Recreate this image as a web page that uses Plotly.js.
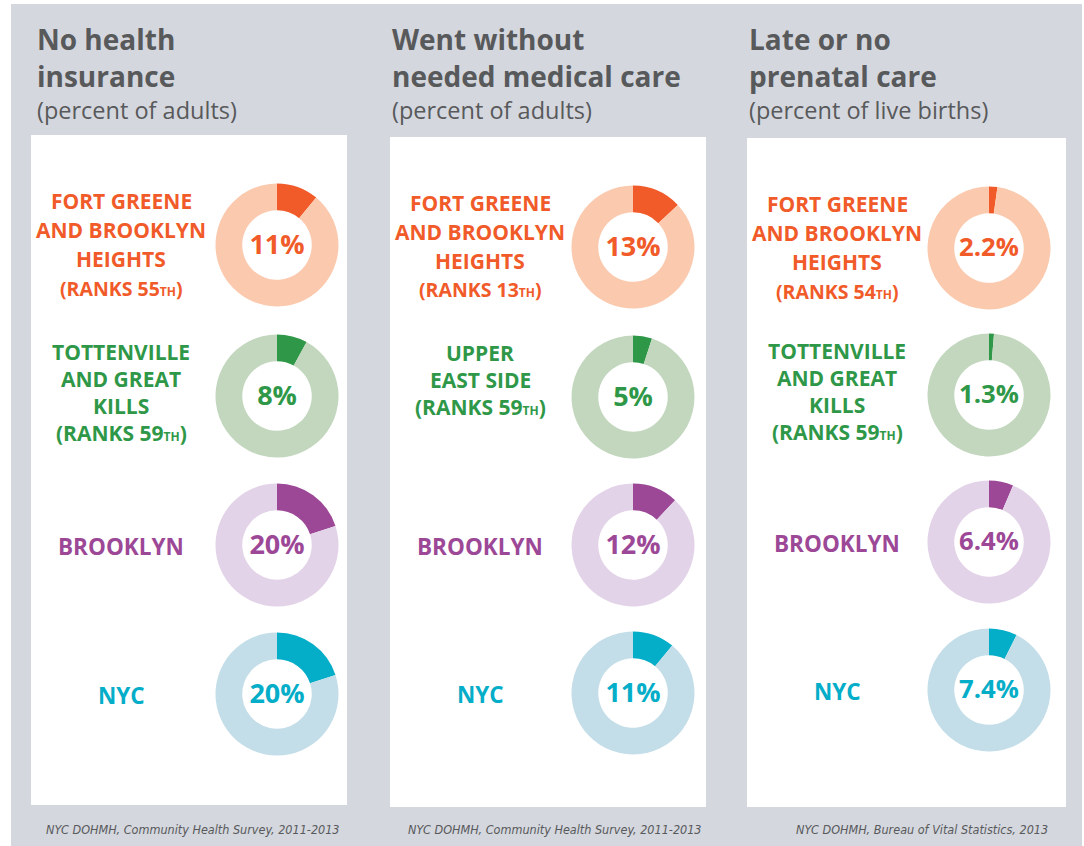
<!DOCTYPE html>
<html>
<head>
<meta charset="utf-8">
<script src="https://cdn.plot.ly/plotly-3.0.1.min.js"></script>
<style>
  html, body { margin: 0; padding: 0; background: #ffffff; }
  #graph { width: 1084px; height: 846px; }
</style>
</head>
<body>
<div id="graph"></div>
<script>
// chart data
const panelTitles = [
    ['No health', 'insurance'],
    ['Went without', 'needed medical care'],
    ['Late or no', 'prenatal care']
]
const panelUnits = ['(percent of adults)', '(percent of adults)', '(percent of live births)']
const panelSources = [
    'NYC DOHMH, Community Health Survey, 2011-2013',
    'NYC DOHMH, Community Health Survey, 2011-2013',
    'NYC DOHMH, Bureau of Vital Statistics, 2013'
]
const areaLabels = [
    [
        ['FORT GREENE', 'AND BROOKLYN', 'HEIGHTS', '(RANKS 55TH)'],
        ['TOTTENVILLE', 'AND GREAT', 'KILLS', '(RANKS 59TH)'],
        ['BROOKLYN'],
        ['NYC']
    ],
    [
        ['FORT GREENE', 'AND BROOKLYN', 'HEIGHTS', '(RANKS 13TH)'],
        ['UPPER', 'EAST SIDE', '(RANKS 59TH)'],
        ['BROOKLYN'],
        ['NYC']
    ],
    [
        ['FORT GREENE', 'AND BROOKLYN', 'HEIGHTS', '(RANKS 54TH)'],
        ['TOTTENVILLE', 'AND GREAT', 'KILLS', '(RANKS 59TH)'],
        ['BROOKLYN'],
        ['NYC']
    ]
]
const noInsurance = [11, 8, 20, 20]
const noCare = [13, 5, 12, 11]
const latePrenatal = [2.2, 1.3, 6.4, 7.4]
const panelValues = [noInsurance, noCare, latePrenatal]

const darkColors = ['#f15a29', '#2f9848', '#9c4897', '#04adc8']
const lightColors = ['#fbcaae', '#c2d7bd', '#e3d3e8', '#c3dee8']

// page geometry (pixels)
const W = 1084, H = 846
const px = x => x / W
const py = y => 1 - y / H

const panelBoxes = [[31, 135, 347, 805], [390, 137, 706, 807], [747, 138, 1066, 807]]
const titleX = [35, 390, 747]
const donutX = [277, 633, 989]
const rowY = [[245, 396, 545, 694], [247, 397, 545, 693], [248, 395, 542, 690]]
const labelX = [121, 480, 837]
const sourceRight = [342, 704, 1050]
const R = 61.5

const titleFont = {family: '"Open Sans", sans-serif', size: 28, color: '#58595b', weight: 'bold'}
const unitFont = {family: '"Open Sans", sans-serif', size: 23.5, color: '#58595b'}

// small "TH" ordinal, drawn like small caps next to the rank number
const ordinal = s => s.replace('TH)', '<span style="font-size:12px">TH</span>)')

const data = []
const annotations = []
const shapes = [{
    type: 'rect', xref: 'paper', yref: 'paper', layer: 'below',
    x0: px(11), x1: px(1082), y0: py(4), y1: py(846),
    fillcolor: '#d4d7de', line: {width: 0}
}]

panelValues.forEach((vals, c) => {
    const b = panelBoxes[c]
    shapes.push({
        type: 'rect', xref: 'paper', yref: 'paper', layer: 'below',
        x0: px(b[0]), x1: px(b[2]), y0: py(b[1]), y1: py(b[3]),
        fillcolor: '#ffffff', line: {width: 0}
    })

    panelTitles[c].forEach((t, i) => {
        annotations.push({
            text: t, x: px(titleX[c]), y: py(39 + i * 37), xref: 'paper', yref: 'paper',
            xanchor: 'left', yanchor: 'middle', showarrow: false, font: titleFont
        })
    })
    annotations.push({
        text: panelUnits[c], x: px(titleX[c]), y: py(110), xref: 'paper', yref: 'paper',
        xanchor: 'left', yanchor: 'middle', showarrow: false, font: unitFont
    })
    annotations.push({
        text: '<i>' + panelSources[c] + '</i>', x: px(sourceRight[c]), y: py(829),
        xref: 'paper', yref: 'paper', xanchor: 'right', yanchor: 'middle', showarrow: false,
        font: {family: '"DejaVu Sans Condensed", sans-serif', size: 12.5, color: '#58595b'}
    })

    vals.forEach((v, r) => {
        const cx = donutX[c], cy = rowY[c][r]
        data.push({
            type: 'pie',
            values: [v, 100 - v],
            sort: false,
            direction: 'clockwise',
            rotation: 0,
            hole: 0.565,
            textinfo: 'none',
            hoverinfo: 'skip',
            showlegend: false,
            marker: {colors: [darkColors[r], lightColors[r]], line: {width: 0}},
            domain: {x: [px(cx - R), px(cx + R)], y: [py(cy + R), py(cy - R)]},
            title: {
                text: v + '%', position: 'middle center',
                font: {family: '"Open Sans", sans-serif', size: 27, color: darkColors[r], weight: 'bold'}
            }
        })

        const lines = areaLabels[c][r]
        const gap = r === 0 ? 29 : 27
        lines.forEach((ln, i) => {
            const y = lines.length === 1 ? cy + 1 : cy - 44 + i * gap
            const isRank = ln.startsWith('(')
            let size = r >= 2 ? 22.5 : 21
            if (isRank && r === 0) size = 19.5
            annotations.push({
                text: isRank ? ordinal(ln) : ln, x: px(labelX[c]), y: py(y), xref: 'paper', yref: 'paper',
                xanchor: 'center', yanchor: 'middle', showarrow: false,
                font: {family: '"Open Sans", sans-serif', size: size, color: darkColors[r], weight: 'bold'}
            })
        })
    })
})

const layout = {
    width: W,
    height: H,
    margin: {l: 0, r: 0, t: 0, b: 0},
    paper_bgcolor: '#ffffff',
    plot_bgcolor: '#ffffff',
    showlegend: false,
    shapes: shapes,
    annotations: annotations
}

Plotly.newPlot('graph', data, layout, {displayModeBar: false, staticPlot: true})
</script>
</body>
</html>
